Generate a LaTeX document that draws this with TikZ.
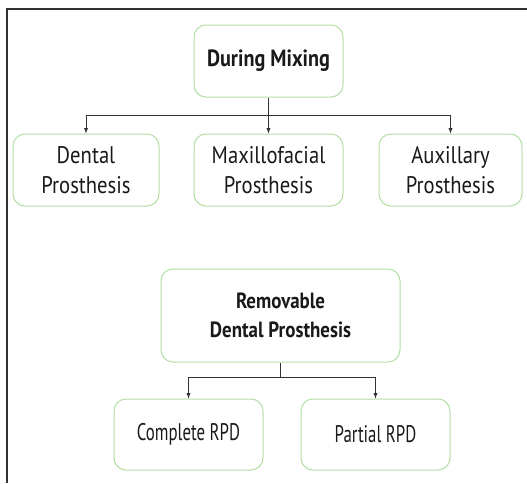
\documentclass[tikz,border=0pt]{standalone}
\usepackage{fontspec}
\setmainfont{PT Sans}[FakeStretch=0.86]
\newfontfamily\narrowsans{PT Sans}[FakeStretch=0.7]
\usetikzlibrary{calc}

\definecolor{boxgreen}{RGB}{178,222,166}
\definecolor{linegray}{RGB}{50,50,50}

\tikzset{
  catbox/.style={draw=boxgreen, line width=1pt, rounded corners=12pt, align=center,
    inner sep=0pt, font=\fontsize{24}{30}\selectfont, text=black!90},
  headbox/.style={catbox, font=\fontsize{23.5}{29}\selectfont\bfseries},
  rpdbox/.style={catbox, font=\narrowsans\fontsize{24}{30}\selectfont},
  link/.style={->, >=latex, draw=linegray, line width=0.9pt},
}

\begin{document}
\begin{tikzpicture}[x=1pt, y=-1pt]

\useasboundingbox (0,0) rectangle (527,483);

% Frame, only top and left edges
\draw [line width=2pt, linegray] (6.5,483) -- (6.5,8.5) -- (527,8.5);

% First tree
\node [headbox, minimum width=149pt, minimum height=72pt] (mixing) at (268.5, 61) {During Mixing};

\node [catbox, minimum width=146pt, minimum height=72pt] (dental) at (86, 170) {Dental\\Prosthesis};
\node [catbox, minimum width=149pt, minimum height=72pt] (maxillo) at (268.5, 170) {Maxillofacial\\Prosthesis};
\node [catbox, minimum width=143pt, minimum height=72pt] (auxil) at (450.5, 170) {Auxillary\\Prosthesis};

\coordinate (fork1) at ($(mixing.south)+(0,18)$);
\draw [link] (mixing.south) -- (maxillo.north);
\draw [link] (fork1) -| (dental.north);
\draw [link] (fork1) -| (auxil.north);

% Second tree
\node [headbox, font=\fontsize{22}{29}\selectfont\bfseries, minimum width=239pt, minimum height=93pt] (removable) at (280.5, 315.5) {Removable\\Dental Prosthesis};

\node [rpdbox, minimum width=149pt, minimum height=71pt] (complete) at (188.5, 434.5) {Complete RPD};
\node [rpdbox, minimum width=149pt, minimum height=71pt] (partial) at (375.5, 434.5) {Partial RPD};

\coordinate (fork2) at ($(removable.south)+(0,15)$);
\draw [linegray, line width=0.9pt] (removable.south) -- (fork2);
\draw [link] (fork2) -| (complete.north);
\draw [link] (fork2) -| (partial.north);

\end{tikzpicture}
\end{document}
